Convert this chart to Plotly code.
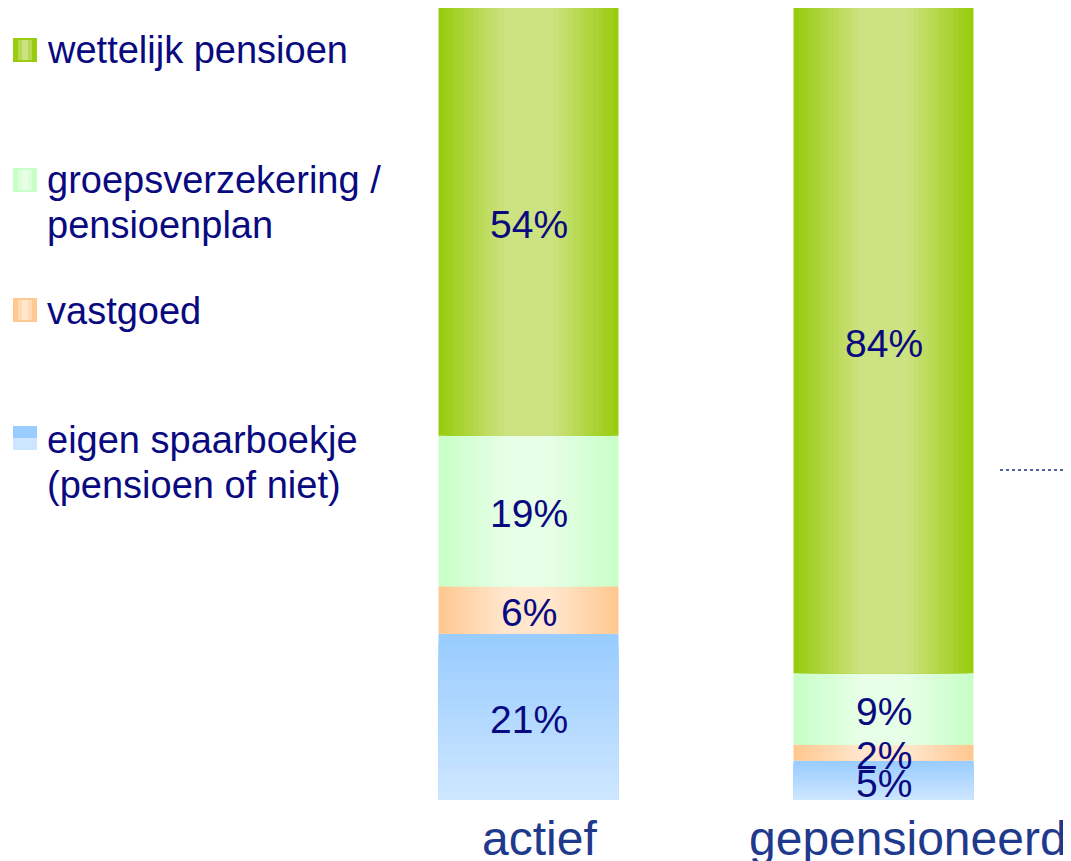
import plotly.graph_objects as go

# data (bottom to top in the stack)
categories = ["actief", "gepensioneerd"]
series_names = [
    ["eigen spaarboekje", "(pensioen of niet)"],
    ["vastgoed"],
    ["groepsverzekering /", "pensioenplan"],
    ["wettelijk pensioen"],
]
eigen_spaarboekje = [21, 5]
vastgoed = [6, 2]
groepsverzekering = [19, 9]
wettelijk_pensioen = [54, 84]
series_values = [eigen_spaarboekje, vastgoed, groepsverzekering, wettelijk_pensioen]

# styles: (edge colour, centre colour, gradient direction)
styles = [
    ("#99CCFF", "#CCE6FF", "vertical"),
    ("#FFC891", "#FFE6CC", "horizontal"),
    ("#C8FFC8", "#E6FFE6", "horizontal"),
    ("#99CC0F", "#CDE280", "horizontal"),
]

NAVY = "#0A0A80"
CAT_BLUE = "#1F3A8C"
FONT = "Arial, Liberation Sans, sans-serif"
BAR_W = 0.507
STEPS = 18
CAT_XSHIFT = [11, 24]

# page body has an 8px margin, so the figure is sized to end at the window edge
OFF = 8
W, H = 1063, 853
M_L, M_R, M_T, M_B = 343, 10, 0, 61


def hex_rgb(c):
    c = c.lstrip("#")
    return [int(c[i:i + 2], 16) for i in (0, 2, 4)]


def mix(c1, c2, t):
    a, b = hex_rgb(c1), hex_rgb(c2)
    return "rgb({},{},{})".format(*[round(a[i] + (b[i] - a[i]) * t) for i in range(3)])


def px_x(p):
    # page pixel -> paper x
    return (p - OFF - M_L) / (W - M_L - M_R)


def px_y(p):
    # page pixel -> paper y
    return (H - M_B - (p - OFF)) / (H - M_T - M_B)


fig = go.Figure()
annotations = []

bases = [0] * len(categories)
for values, (edge, centre, direction) in zip(series_values, styles):
    for k in range(STEPS):
        t = k / (STEPS - 1)
        if direction == "horizontal":
            width = BAR_W * (1 - k / STEPS)
            colour = mix(edge, centre, min(1.0, t / 0.75))
            heights = values
        else:
            width = BAR_W
            colour = mix(edge, centre, t)
            heights = [v * (1 - k / STEPS) for v in values]
        fig.add_trace(
            go.Bar(
                x=categories,
                y=heights,
                base=bases,
                width=width,
                marker=dict(color=colour, line=dict(width=0)),
                showlegend=False,
                hoverinfo="skip",
            )
        )
    # value labels centred in each segment
    for cat, b, v in zip(categories, bases, values):
        annotations.append(dict(
            text=f"{v}%", xref="x", yref="y", x=cat, y=b + v / 2,
            yshift=-3, showarrow=False,
            font=dict(family=FONT, size=39, color=NAVY),
        ))
    bases = [b + v for b, v in zip(bases, values)]

# legend drawn on the left (top to bottom)
legend_rows = [  # (series index, swatch top px, first line centre px)
    (3, 38, 48),
    (2, 168, 178),
    (1, 298, 309),
    (0, 426, 438),
]
LINE_GAP = 45
shapes = []
for idx, sw_top, line_y in legend_rows:
    edge, centre, direction = styles[idx]
    x0, x1 = 13, 37
    y0, y1 = sw_top, sw_top + 24
    shapes.append(dict(type="rect", xref="paper", yref="paper",
                       x0=px_x(x0), x1=px_x(x1), y0=px_y(y1), y1=px_y(y0),
                       fillcolor=edge, line=dict(width=0), layer="above"))
    if direction == "horizontal":
        shapes.append(dict(type="rect", xref="paper", yref="paper",
                           x0=px_x(x0 + 5), x1=px_x(x1 - 5), y0=px_y(y1 - 2), y1=px_y(y0 + 2),
                           fillcolor=mix(edge, centre, 0.6), line=dict(width=0), layer="above"))
        shapes.append(dict(type="rect", xref="paper", yref="paper",
                           x0=px_x(x0 + 9), x1=px_x(x1 - 9), y0=px_y(y1 - 2), y1=px_y(y0 + 2),
                           fillcolor=centre, line=dict(width=0), layer="above"))
    else:
        shapes.append(dict(type="rect", xref="paper", yref="paper",
                           x0=px_x(x0), x1=px_x(x1), y0=px_y(y1), y1=px_y(y0 + 12),
                           fillcolor=centre, line=dict(width=0), layer="above"))
    for j, line in enumerate(series_names[idx]):
        annotations.append(dict(
            text=line, xref="paper", yref="paper",
            x=px_x(45), y=px_y(line_y + 2 + j * LINE_GAP),
            xanchor="left", yanchor="middle",
            align="left", showarrow=False,
            font=dict(family=FONT, size=38, color=NAVY),
        ))

# category labels under the bars
for cat, shift in zip(categories, CAT_XSHIFT):
    annotations.append(dict(
        text=cat, xref="x", yref="paper", x=cat, y=0,
        xanchor="center", yanchor="top", xshift=shift, yshift=-10,
        showarrow=False,
        font=dict(family=FONT, size=48, color=CAT_BLUE),
    ))

# small dotted rule at the right
shapes.append(dict(type="line", xref="paper", yref="paper",
                   x0=px_x(1000), x1=px_x(1071), y0=px_y(470), y1=px_y(470),
                   line=dict(color="#1A2F8A", width=1.5, dash="dot")))

fig.update_layout(
    width=W,
    height=H,
    margin=dict(l=M_L, r=M_R, t=M_T, b=M_B),
    barmode="overlay",
    paper_bgcolor="white",
    plot_bgcolor="white",
    showlegend=False,
    shapes=shapes,
    annotations=annotations,
    xaxis=dict(
        range=[-0.5, 1.5],
        showgrid=False,
        zeroline=False,
        showline=False,
        showticklabels=False,
        ticks="",
        automargin=False,
    ),
    yaxis=dict(
        range=[0, 100],
        visible=False,
        automargin=False,
    ),
)

fig.write_html("out.html")
